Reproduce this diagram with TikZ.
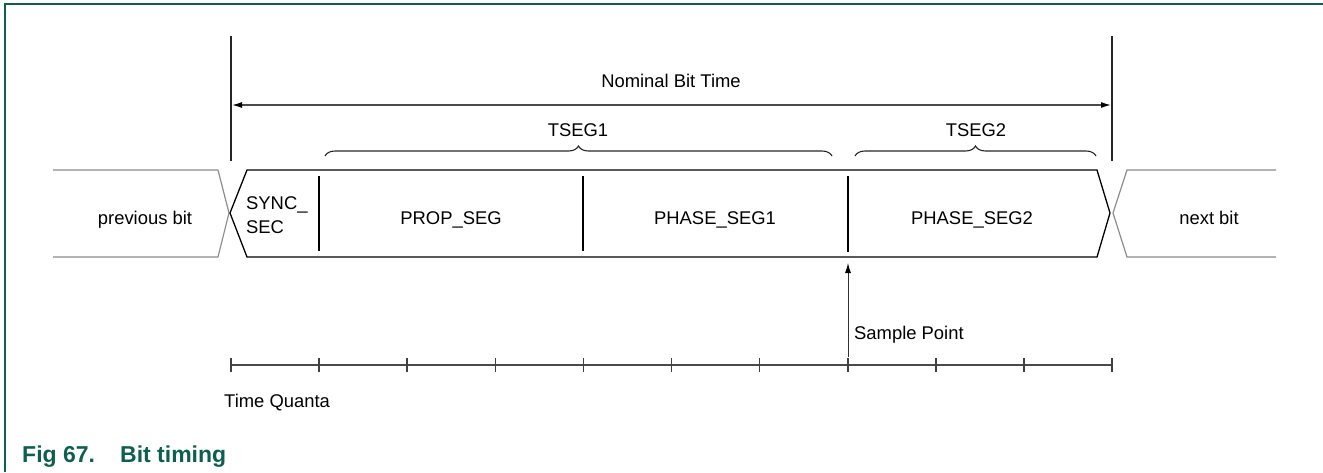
\documentclass[tikz,border=0pt]{standalone}
\usepackage{fontspec}
\setmainfont{Liberation Sans}
\usetikzlibrary{arrows.meta,decorations.pathreplacing}
\definecolor{nxpgreen}{HTML}{0E5F50}
\definecolor{linegray}{HTML}{4A4A4A}
\definecolor{bitgray}{HTML}{8C8C8C}
\begin{document}
\begin{tikzpicture}[x=1pt,y=-1pt,
  lbl/.style={font=\fontsize{18.4}{22}\selectfont, inner sep=0pt, anchor=base},
  lblw/.style={lbl, anchor=base west},
  caption/.style={font=\fontsize{23}{27}\selectfont\bfseries, text=nxpgreen, inner sep=0pt, anchor=base west},
  frame/.style={draw=nxpgreen, line width=2pt},
  boxline/.style={draw=black, line width=1.3pt, line join=miter},
  bitline/.style={draw=bitgray, line width=1.2pt},
  divider/.style={draw=black, line width=1.2pt},
  limit/.style={draw=black!85, line width=1.5pt},
  dimarrow/.style={draw=linegray, line width=1.3pt, {Latex[length=10pt,width=6pt,black]}-{Latex[length=10pt,width=6pt,black]}},
  samplearrow/.style={draw=black!80, line width=1pt, -{Latex[length=10pt,width=6pt,black]}},
  bracestyle/.style={draw=black!85, line width=1.1pt, decorate, decoration={brace, amplitude=10pt}},
  axis/.style={draw=linegray, line width=1.5pt},
  tick/.style={draw=black!75, line width=1.6pt}
]
\useasboundingbox (0,0) rectangle (1323,472);

% frame
\draw[frame] (1323,4) -- (5,4) -- (5,472);

% previous bit / next bit
\draw[bitline] (53,170) -- (218,170) -- (229,213) -- (218,257) -- (53,257);
\draw[bitline] (1276,170) -- (1127,170) -- (1113,213) -- (1127,257) -- (1276,257);
\node[lbl] (prev) at (145,224) {previous bit};
\node[lbl] (next) at (1209,224) {next bit};

% main bit box
\draw[boxline] (230,213) -- (247,170) -- (1097,170) -- (1110,213) -- (1097,257) -- (247,257) -- cycle;
\coordinate (d1t) at (319,176); \coordinate (d1b) at (319,251);
\coordinate (d2t) at (583,176); \coordinate (d2b) at (583,251);
\coordinate (d3t) at (848,176); \coordinate (d3b) at (848,252);
\draw[divider] (d1t) -- (d1b);
\draw[divider] (d2t) -- (d2b);
\draw[divider] (d3t) -- (d3b);
\node[lblw] (sync1) at (246,209) {SYNC\_};
\node[lblw] (sync2) at (246,233) {SEC};
\node[lbl] (prop) at (451,224) {PROP\_SEG};
\node[lbl] (ph1) at (715,224) {PHASE\_SEG1};
\node[lbl] (ph2) at (972,224) {PHASE\_SEG2};

% limits and nominal bit time
\coordinate (lt) at (231,36); \coordinate (lb) at (231,161);
\coordinate (rt) at (1112,36); \coordinate (rb) at (1112,161);
\draw[limit] (lt) -- (lb);
\draw[limit] (rt) -- (rb);
\coordinate (na) at (232,105); \coordinate (nb) at (1111,105);
\draw[dimarrow] (na) -- (nb);
\node[lbl] (nominal) at (671,87) {Nominal Bit Time};

% braces
\coordinate (t1a) at (325,156); \coordinate (t1b) at (832,156);
\coordinate (t2a) at (855,156); \coordinate (t2b) at (1096,156);
\draw[bracestyle] (t1a) -- (t1b);
\draw[bracestyle] (t2a) -- (t2b);
\node[lbl] (tseg1) at (578,136.5) {TSEG1};
\node[lbl] (tseg2) at (976,136.5) {TSEG2};

% sample point
\coordinate (sp0) at (848,357); \coordinate (sp1) at (848,263);
\draw[samplearrow] (sp0) -- (sp1);
\node[lblw] (sample) at (854,339) {Sample Point};

% time quanta axis
\coordinate (q0) at (231,365); \coordinate (q10) at (1112,365);
\draw[axis] (q0) -- (q10);
\foreach \i in {0,...,10}{
  \pgfmathsetmacro{\tx}{231+\i*88.1}
  \draw[tick] (\tx,358) -- (\tx,372);
}
\node[lblw] (tq) at (224,407) {Time Quanta};

% caption
\node[caption] (fig) at (22,462) {Fig 67.};
\node[caption] (figt) at (120,462) {Bit timing};
\end{tikzpicture}
\end{document}
